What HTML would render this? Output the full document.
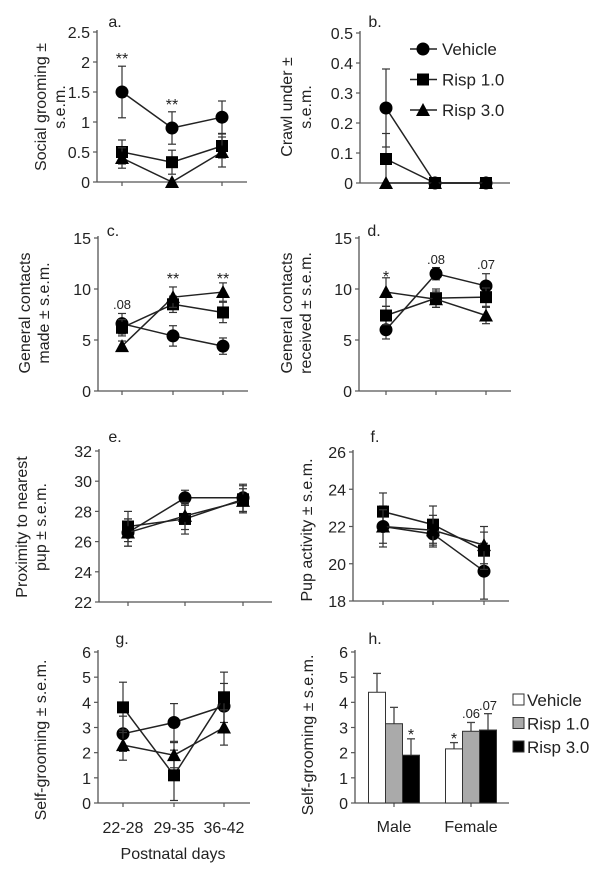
<!DOCTYPE html>
<html><head><meta charset="utf-8">
<style>
body{margin:0;background:#fff}
svg{display:block;font-family:"Liberation Sans",Arial,sans-serif}
</style></head>
<body>
<svg id="fig" width="602" height="871" viewBox="0 0 602 871"></svg>
<script>
// ---- data ----
const cats = ["22-28","29-35","36-42"];
const seriesNames = ["Vehicle","Risp 1.0","Risp 3.0"];
// panel a
const aTicks = ["0","0.5","1","1.5","2","2.5"];
const aVeh = [1.5,0.9,1.08], aVehErr = [0.43,0.27,0.27];
const aR1 = [0.5,0.33,0.6], aR1Err = [0.2,0.2,0.2];
const aR3 = [0.4,0,0.5], aR3Err = [0.17,0,0.25];
// panel b
const bTicks = ["0","0.1","0.2","0.3","0.4","0.5"];
const bVeh = [0.25,0,0], bVehErr = [0.13,0,0];
const bR1 = [0.08,0,0], bR1Err = [0.085,0,0];
const bR3 = [0,0,0], bR3Err = [0,0,0];
// panel c
const cTicks = ["0","5","10","15"];
const cVeh = [6.6,5.4,4.4], cVehErr = [1.0,1.0,0.8];
const cR1 = [6.2,8.5,7.7], cR1Err = [0.8,0.8,1.0];
const cR3 = [4.4,9.2,9.7], cR3Err = [0.5,1.0,0.9];
// panel d
const dTicks = ["0","5","10","15"];
const dVeh = [6.0,11.5,10.3], dVehErr = [0.9,0.6,1.2];
const dR1 = [7.4,9.1,9.2], dR1Err = [0.9,0.9,0.9];
const dR3 = [9.7,9.0,7.4], dR3Err = [1.4,0.8,0.8];
// panel e
const eTicks = ["22","24","26","28","30","32"];
const eVeh = [26.6,28.9,28.9], eVehErr = [0.9,0.5,0.9];
const eR1 = [27.0,27.5,28.8], eR1Err = [1.0,1.0,0.9];
const eR3 = [26.6,27.7,28.7], eR3Err = [0.9,0.9,0.8];
// panel f
const fTicks = ["18","20","22","24","26"];
const fVeh = [22.0,21.6,19.6], fVehErr = [1.1,0.7,1.5];
const fR1 = [22.8,22.1,20.7], fR1Err = [1.0,1.0,1.0];
const fR3 = [22.0,21.8,21.0], fR3Err = [0.9,0.8,1.0];
// panel g
const gTicks = ["0","1","2","3","4","5","6"];
const gVeh = [2.75,3.2,3.85], gVehErr = [0.7,0.75,0.9];
const gR1 = [3.8,1.1,4.2], gR1Err = [1.0,1.0,1.0];
const gR3 = [2.3,1.9,3.0], gR3Err = [0.6,0.5,0.7];
// panel h
const hCats = ["Male","Female"];
const hTicks = ["0","1","2","3","4","5","6"];
const hVeh = [4.4,2.15], hVehErr = [0.75,0.25];
const hR1 = [3.15,2.85], hR1Err = [0.65,0.35];
const hR3 = [1.9,2.9], hR3Err = [0.65,0.65];

const NS="http://www.w3.org/2000/svg";
const svg=document.getElementById('fig');
function mk(tag,attrs,parent,txt){const e=document.createElementNS(NS,tag);for(const k in attrs)e.setAttribute(k,attrs[k]);if(txt!==undefined)e.textContent=txt;(parent||svg).appendChild(e);return e;}

function marker(g,shape,x,y){
  let m;
  if(shape==='circle'){m=mk('circle',{cx:x,cy:y,r:6.5,fill:'#000'},g);}
  else if(shape==='square'){m=mk('rect',{x:x-6,y:y-6,width:12,height:12,fill:'#000'},g);}
  else {m=mk('polygon',{points:`${x},${y-7} ${x+7},${y+6} ${x-7},${y+6}`,fill:'#000'},g);}
  
  
}

function axes(p,ticks,name){
  const g=mk('g',{});
  
  
  mk('line',{x1:p.x0,y1:p.yTop-2,x2:p.x0,y2:p.yBot,stroke:'#555','stroke-width':1.3},g);
  mk('line',{x1:p.x0,y1:p.yBot,x2:p.xEnd,y2:p.yBot,stroke:'#555','stroke-width':1.3},g);
  ticks.forEach((t,i)=>{
    const v=parseFloat(t);const y=p.y(v);
    mk('line',{x1:p.x0-4,y1:y,x2:p.x0,y2:y,stroke:'#555','stroke-width':1.2},g);
    const tx=mk('text',{x:p.x0-7,y:y+6,'text-anchor':'end','font-size':16,fill:'#222'},g,t);
    
    
  });
  return g;
}

function ytitle(x,cy,lines,name){
  const g=mk('g',{transform:`translate(${x},${cy}) rotate(-90)`});
  
  
  lines.forEach((l,i)=>mk('text',{x:0,y:i*19,'text-anchor':'middle','font-size':16,fill:'#222'},g,l));
}
function label(x,y,t,size){
  const e=mk('text',{x:x,y:y,'font-size':size||16,fill:'#222','text-anchor':'middle'},svg,t);
  
  
}

function linePanel(name,geo,min,max,ticks,series){
  const p=Object.assign({},geo);
  p.y=v=>geo.yBot-(v-min)/(max-min)*(geo.yBot-geo.yTop);
  p.x=i=>geo.cx[i];
  const g=axes(p,ticks,name);
  p.cx.forEach(x=>mk('line',{x1:x,y1:p.yBot,x2:x,y2:p.yBot+4,stroke:'#555','stroke-width':1.2},g));
  const shapes=['circle','square','triangle'];
  series.forEach((s,si)=>{
    const sg=mk('g',{});
    
    
    const vals=s[0],errs=s[1];
    vals.forEach((v,i)=>{
      const x=p.x(i),y1=p.y(v+errs[i]),y2=p.y(Math.max(min,v-errs[i]));
      if(errs[i]>0){
        mk('line',{x1:x,y1:y1,x2:x,y2:y2,stroke:'#333','stroke-width':1.2},sg);
        mk('line',{x1:x-4,y1:y1,x2:x+4,y2:y1,stroke:'#333','stroke-width':1.2},sg);
        mk('line',{x1:x-4,y1:y2,x2:x+4,y2:y2,stroke:'#333','stroke-width':1.2},sg);
      }
    });
    mk('polyline',{points:vals.map((v,i)=>p.x(i)+','+p.y(v)).join(' '),fill:'none',stroke:'#222','stroke-width':1.5},sg);
    vals.forEach((v,i)=>marker(sg,shapes[si],p.x(i),p.y(v)));
  });
  return p;
}

// a
const pa=linePanel('panel-a',{x0:97,xEnd:247,yTop:32,yBot:182,cx:[122,172,222]},0,2.5,aTicks,[[aVeh,aVehErr],[aR1,aR1Err],[aR3,aR3Err]]);
label(115,27,'a.');ytitle(46,107,['Social grooming ±','s.e.m.'],'panel-a');
label(122,64,'**',16);label(172,110,'**',16);
// b
const pb=linePanel('panel-b',{x0:360,xEnd:510,yTop:33,yBot:183,cx:[386,435,486]},0,0.5,bTicks,[[bVeh,bVehErr],[bR1,bR1Err],[bR3,bR3Err]]);
label(375,27,'b.');ytitle(292,107,['Crawl under ±','s.e.m.'],'panel-b');
// legend b
const lg=mk('g',{});
['circle','square','triangle'].forEach((s,i)=>{const y=49+i*30.5;
  mk('line',{x1:410,y1:y,x2:437,y2:y,stroke:'#222','stroke-width':1.5},lg);marker(lg,s,423,y);
  const t=mk('text',{x:442,y:y+6,'font-size':17,fill:'#222'},lg,seriesNames[i]);
  });
// c
linePanel('panel-c',{x0:98,xEnd:248,yTop:238,yBot:391,cx:[122,173,223]},0,15,cTicks,[[cVeh,cVehErr],[cR1,cR1Err],[cR3,cR3Err]]);
label(113,236,'c.');ytitle(30,313,['General contacts','made ± s.e.m.'],'panel-c');
label(122,309,'.08',13);label(173,284,'**',16);label(223,284,'**',16);
// d
linePanel('panel-d',{x0:359,xEnd:511,yTop:238,yBot:391,cx:[386,436,486]},0,15,dTicks,[[dVeh,dVehErr],[dR1,dR1Err],[dR3,dR3Err]]);
label(374,236,'d.');ytitle(292,313,['General contacts','received ± s.e.m.'],'panel-d');
label(386,282,'*',16);label(436,264,'.08',13);label(486,269,'.07',13);
// e
linePanel('panel-e',{x0:99,xEnd:272,yTop:451,yBot:602,cx:[128,185,243]},22,32,eTicks,[[eVeh,eVehErr],[eR1,eR1Err],[eR3,eR3Err]]);
label(115,442,'e.');ytitle(27,527,['Proximity to nearest','pup ± s.e.m.'],'panel-e');
// f
linePanel('panel-f',{x0:353,xEnd:509,yTop:452,yBot:601,cx:[383,433,484]},18,26,fTicks,[[fVeh,fVehErr],[fR1,fR1Err],[fR3,fR3Err]]);
label(375,442,'f.');ytitle(312,530,['Pup activity ± s.e.m.'],'panel-f');
// g
linePanel('panel-g',{x0:98,xEnd:250,yTop:652,yBot:803,cx:[123,174,224]},0,6,gTicks,[[gVeh,gVehErr],[gR1,gR1Err],[gR3,gR3Err]]);
label(122,644,'g.');ytitle(46,740,['Self-grooming ± s.e.m.'],'panel-g');
cats.forEach((c,i)=>{const t=mk('text',{x:[123,174,224][i],y:833,'text-anchor':'middle','font-size':16,fill:'#222'},svg,c);});
{const t=mk('text',{x:173,y:859,'text-anchor':'middle','font-size':16,fill:'#222'},svg,'Postnatal days');}
// h bars
{
  const p={x0:355,xEnd:509,yTop:652,yBot:803};
  p.y=v=>p.yBot-v/6*(p.yBot-p.yTop);
  const g=axes(p,hTicks,'panel-h');
  const centers=[394,471];
  centers.forEach(x=>mk('line',{x1:x,y1:p.yBot,x2:x,y2:p.yBot+4,stroke:'#555','stroke-width':1.2},g));
  const fills=['#fff','#aaa','#000'];
  [[hVeh,hVehErr],[hR1,hR1Err],[hR3,hR3Err]].forEach((s,si)=>{
    s[0].forEach((v,ci)=>{
      const bw=17,x=centers[ci]-bw*1.5+si*bw;
      const ye=p.y(v+s[1][ci]),xc=x+bw/2;
      const el=mk('line',{x1:xc,y1:p.y(v),x2:xc,y2:ye,stroke:'#444','stroke-width':1.3});
      mk('line',{x1:xc-4,y1:ye,x2:xc+4,y2:ye,stroke:'#444','stroke-width':1.3});
      const r=mk('rect',{x:x,y:p.y(v),width:bw,height:p.yBot-p.y(v),fill:fills[si],stroke:'#333','stroke-width':1});
      
      
    });
  });
  hCats.forEach((c,i)=>{const t=mk('text',{x:centers[i],y:832,'text-anchor':'middle','font-size':16,fill:'#222'},svg,c);});
  label(375,644,'h.');ytitle(313,735,['Self-grooming ± s.e.m.'],'panel-h');
  label(411,740,'*',16);label(454,744,'*',16);label(471,718,'.06',13);label(488,710,'.07',13);
  seriesNames.forEach((n,i)=>{const y=700+i*23.5;
    mk('rect',{x:513,y:y-6,width:11,height:11,fill:fills[i],stroke:'#333','stroke-width':1});
    const t=mk('text',{x:527,y:y+6,'font-size':17,fill:'#222'},svg,n);
    });
}
</script>
</body></html>
